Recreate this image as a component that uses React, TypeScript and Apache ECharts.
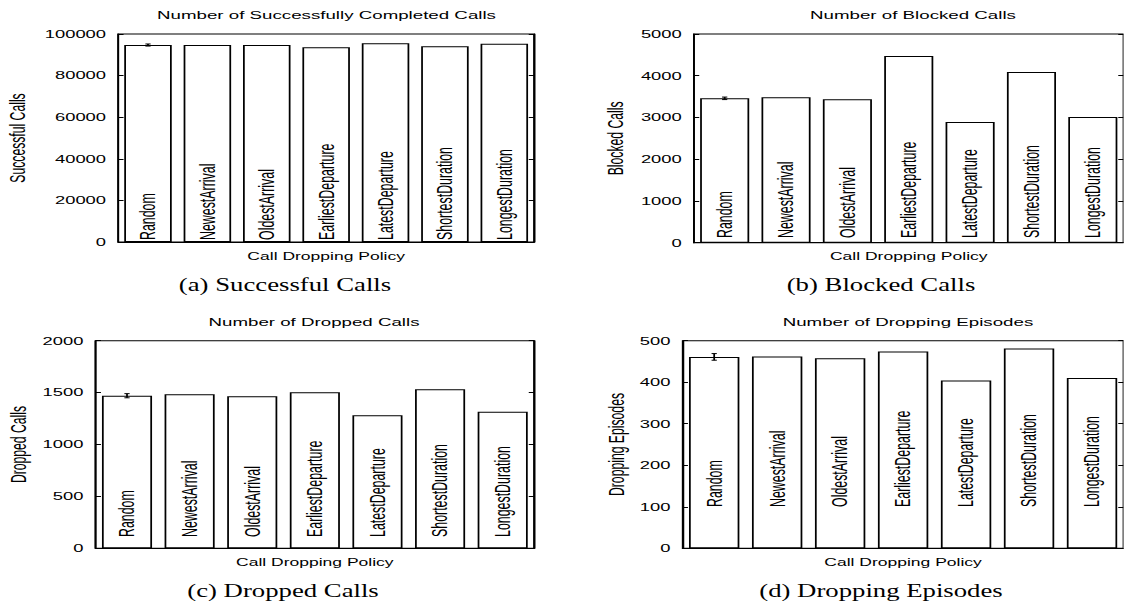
import React, { useEffect, useRef } from "react";
import * as echarts from "echarts";

// ---------------- data ----------------
const categories = [
  "Random",
  "NewestArrival",
  "OldestArrival",
  "EarliestDeparture",
  "LatestDeparture",
  "ShortestDuration",
  "LongestDuration",
];

const successfulCalls = [94700, 94700, 94700, 93600, 95500, 94100, 95300];
const blockedCalls = [3459, 3483, 3435, 4473, 2892, 4090, 3011];
const droppedCalls = [1470, 1484, 1464, 1503, 1281, 1532, 1316];
const droppingEpisodes = [461, 462, 458, 474, 404, 481, 410];

// error margins (only the Random policy has an error bar)
const successfulErr = [500];
const blockedErr = [30];
const droppedErr = [20];
const episodesErr = [8];

const titles = [
  "Number of Successfully Completed Calls",
  "Number of Blocked Calls",
  "Number of Dropped Calls",
  "Number of Dropping Episodes",
];
const yNames = ["Successful Calls", "Blocked Calls", "Dropped Calls", "Dropping Episodes"];
const xName = "Call Dropping Policy";
const captions = [
  "(a) Successful Calls",
  "(b) Blocked Calls",
  "(c) Dropped Calls",
  "(d) Dropping Episodes",
];
const yMax = [100000, 5000, 2000, 500];
const yInterval = [20000, 1000, 500, 100];

const seriesValues = [successfulCalls, blockedCalls, droppedCalls, droppingEpisodes];
const seriesErrors = [successfulErr, blockedErr, droppedErr, episodesErr];

// ---------------- layout (visual pixels) ----------------
const S = 1.75; // horizontal stretch of the figure
const W = 1124 / S;
const H = 605;

const layout = [
  { l: 118.3, r: 534, t: 34, b: 242, labelMargin: 2, yNameGap: 51.8, tx: 326.5, ty: 15, cx: 285, cy: 284 },
  { l: 694, r: 1132, t: 34, b: 242.7, labelMargin: 4.7, yNameGap: 38.5, tx: 913, ty: 15, cx: 881, cy: 284 },
  { l: 95.7, r: 534, t: 340.7, b: 548.3, labelMargin: 11.3, yNameGap: 38.3, tx: 314, ty: 322, cx: 283, cy: 590 },
  { l: 682.7, r: 1133, t: 340.7, b: 548.3, labelMargin: 41.3, yNameGap: 31.6, tx: 908, ty: 322, cx: 881, cy: 590 },
];

const FONT = '"Liberation Sans", Arial, Helvetica, sans-serif';
const SERIF = '"Liberation Serif", "Times New Roman", Times, serif';

function buildOption() {
  const grid: any[] = [];
  const xAxis: any[] = [];
  const yAxis: any[] = [];
  const series: any[] = [];
  const graphic: any[] = [];

  layout.forEach((p, i) => {
    grid.push({
      left: p.l / S,
      top: p.t,
      width: (p.r - p.l) / S,
      height: p.b - p.t,
      show: true,
      borderColor: "#000",
      borderWidth: 1,
      backgroundColor: "transparent",
    });
    xAxis.push({
      type: "category",
      gridIndex: i,
      data: categories,
      z: 6,
      axisLine: { show: true, lineStyle: { color: "#000", width: 1 } },
      axisTick: { show: false },
      splitLine: { show: false },
      axisLabel: {
        interval: 0,
        rotate: 90,
        inside: true,
        margin: p.labelMargin,
        fontSize: 12.4,
        fontFamily: FONT,
        color: "#000",
      },
      name: xName,
      nameLocation: "middle",
      nameGap: 9,
      nameTextStyle: { fontSize: 10, fontFamily: FONT, color: "#000" },
    });
    yAxis.push({
      type: "value",
      gridIndex: i,
      position: "left",
      min: 0,
      max: yMax[i],
      interval: yInterval[i],
      axisLine: { show: true, lineStyle: { color: "#000", width: 1 } },
      axisTick: { show: true, inside: true, length: 3, lineStyle: { color: "#000" } },
      splitLine: { show: false },
      axisLabel: {
        margin: 7,
        fontSize: 10.5,
        fontFamily: FONT,
        color: "#000",
        formatter: (v: number) => String(v),
      },
      name: yNames[i],
      nameLocation: "middle",
      nameGap: p.yNameGap,
      nameTextStyle: { fontSize: 12.2, fontFamily: FONT, color: "#000" },
    });
    yAxis.push({
      type: "value",
      gridIndex: i,
      position: "right",
      min: 0,
      max: yMax[i],
      interval: yInterval[i],
      axisLine: { show: true, lineStyle: { color: "#000", width: 1 } },
      axisTick: { show: true, inside: true, length: 3, lineStyle: { color: "#000" } },
      splitLine: { show: false },
      axisLabel: { show: false },
    });

    const vals = seriesValues[i];
    series.push({
      type: "bar",
      xAxisIndex: i,
      yAxisIndex: 2 * i,
      data: vals,
      barCategoryGap: "20%",
      silent: true,
      itemStyle: { color: "#fff", borderColor: "#000", borderWidth: 1 },
    });
    const errData = seriesErrors[i].map((e, k) => [k, vals[k] - e, vals[k] + e]);
    series.push({
      type: "custom",
      xAxisIndex: i,
      yAxisIndex: 2 * i,
      data: errData,
      z: 5,
      silent: true,
      renderItem: (params: any, api: any) => {
        const x = api.value(0);
        const lo = api.coord([x, api.value(1)]);
        const hi = api.coord([x, api.value(2)]);
        const w = 1.5;
        const st = { stroke: "#000", lineWidth: 1 };
        return {
          type: "group",
          children: [
            { type: "line", shape: { x1: lo[0], y1: lo[1], x2: hi[0], y2: hi[1] }, style: st },
            { type: "line", shape: { x1: lo[0] - w, y1: lo[1], x2: lo[0] + w, y2: lo[1] }, style: st },
            { type: "line", shape: { x1: hi[0] - w, y1: hi[1], x2: hi[0] + w, y2: hi[1] }, style: st },
          ],
        };
      },
    });

    graphic.push({
      type: "text",
      x: p.tx / S,
      y: p.ty,
      silent: true,
      style: {
        text: titles[i],
        fontSize: 10.7,
        fontFamily: FONT,
        fill: "#000",
        align: "center",
        verticalAlign: "middle",
        textAlign: "center",
        textVerticalAlign: "middle",
      },
    });
    graphic.push({
      type: "text",
      x: p.cx / S,
      y: p.cy,
      scaleX: 0.784,
      silent: true,
      style: {
        text: captions[i],
        fontSize: 19.5,
        fontFamily: SERIF,
        fill: "#000",
        align: "center",
        verticalAlign: "middle",
        textAlign: "center",
        textVerticalAlign: "middle",
      },
    });
  });

  return {
    animation: false,
    backgroundColor: "#fff",
    grid,
    xAxis,
    yAxis,
    series,
    graphic,
  };
}

export default function App() {
  const ref = useRef<HTMLDivElement>(null);
  useEffect(() => {
    if (!ref.current) return;
    const chart = echarts.init(ref.current, undefined, { renderer: "svg" });
    chart.setOption(buildOption() as any);
    return () => chart.dispose();
  }, []);
  return (
    <div
      style={{
        position: "fixed",
        left: 0,
        top: 0,
        width: 1124,
        height: 605,
        overflow: "hidden",
        background: "#fff",
      }}
    >
      <div
        ref={ref}
        style={{
          width: W,
          height: H,
          transform: `scaleX(${S})`,
          transformOrigin: "0 0",
        }}
      />
    </div>
  );
}
